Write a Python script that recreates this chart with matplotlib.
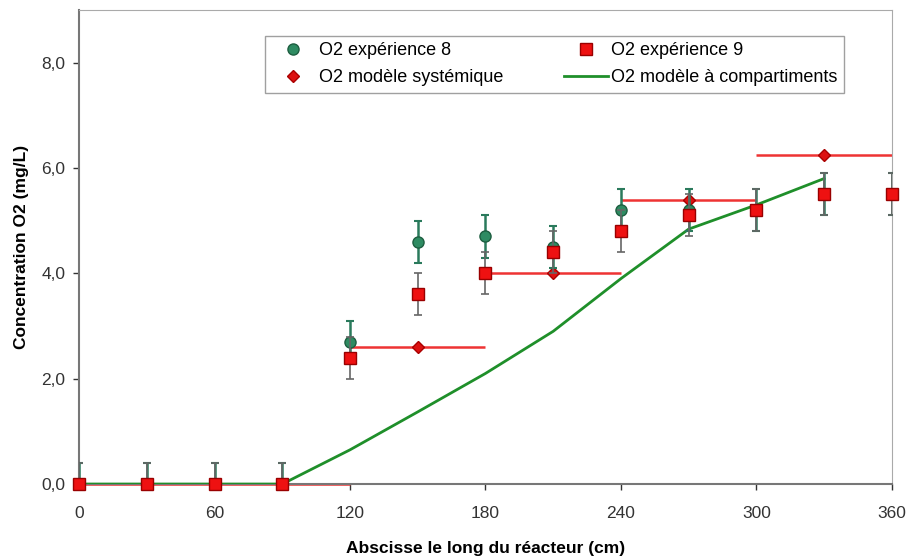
import numpy as np
import matplotlib.pyplot as plt
from matplotlib.ticker import FuncFormatter
from matplotlib.lines import Line2D

# Données
x_exp = [0, 30, 60, 90, 120, 150, 180, 210, 240, 270, 300, 330, 360]
o2_exp8 = [0.0, 0.0, 0.0, 0.0, 2.7, 4.6, 4.7, 4.5, 5.2, 5.2, 5.2, 5.5, 5.5]
o2_exp9 = [0.0, 0.0, 0.0, 0.0, 2.4, 3.6, 4.0, 4.4, 4.8, 5.1, 5.2, 5.5, 5.5]
err_exp = 0.4

x_syst = [30, 90, 150, 210, 270, 330]
o2_syst = [0.0, 0.0, 2.6, 4.0, 5.4, 6.25]
syst_start = [0, 60, 120, 180, 240, 300]
syst_end = [60, 120, 180, 240, 300, 360]

x_comp = [0, 30, 60, 90, 120, 150, 180, 210, 240, 270, 300, 330]
o2_comp = [0.0, 0.0, 0.0, 0.0, 0.65, 1.37, 2.1, 2.9, 3.9, 4.84, 5.3, 5.8]

plt.rcParams['font.family'] = ['Liberation Sans', 'DejaVu Sans']

fig = plt.figure(figsize=(9.1, 5.57), dpi=100)
ax = fig.add_axes([0.087, 0.131, 0.893, 0.851])

green = '#1f8f2a'
red = '#ee1111'
teal = '#2e8b62'

# modèle à compartiments
ax.plot(x_comp, o2_comp, color=green, lw=2, zorder=3)

# modèle systémique : paliers
ax.hlines(o2_syst, syst_start, syst_end, colors='#ee3333', lw=1.8, zorder=2,
          clip_on=False)
ax.plot(x_syst, o2_syst, linestyle='none', marker='D', ms=6, color='#dd1111',
        mec='#aa0000', zorder=4, clip_on=False)

# expériences
e8 = ax.errorbar(x_exp, o2_exp8, yerr=err_exp, fmt='o', ms=8, color=teal,
                 mec='#1d5e40', ecolor='#2a7a5c', elinewidth=1.8, capsize=3,
                 capthick=1.5, zorder=5)
e9 = ax.errorbar(x_exp, o2_exp9, yerr=err_exp, fmt='s', ms=9, color=red,
                 mec='#990000', ecolor='#666666', elinewidth=1.2, capsize=3,
                 capthick=1.2, zorder=6)
e8[0].set_clip_on(False)
e9[0].set_clip_on(False)

ax.set_xlim(0, 360)
ax.set_ylim(0, 9)
ax.set_xticks(np.arange(0, 361, 60))
ax.set_yticks([0, 2, 4, 6, 8])
ax.yaxis.set_major_formatter(FuncFormatter(lambda v, p: f'{v:.1f}'.replace('.', ',')))
ax.tick_params(labelsize=12.5, colors='#333333', length=4, width=1, direction='out')
ax.tick_params(axis='x', pad=12)
ax.tick_params(axis='y', pad=6)
for s in ax.spines.values():
    s.set_color('#aaaaaa')
ax.spines['left'].set_color('#777777')
ax.spines['bottom'].set_color('#777777')
ax.spines['left'].set_linewidth(1.5)
ax.spines['bottom'].set_linewidth(1.5)

ax.set_xlabel('Abscisse le long du réacteur (cm)', fontsize=12.5, fontweight='bold', labelpad=14)
ax.set_ylabel('Concentration O2 (mg/L)', fontsize=12.5, fontweight='bold', labelpad=9)

handles = [
    Line2D([], [], ls='none', marker='o', ms=8, color=teal, mec='#1d5e40'),
    Line2D([], [], ls='none', marker='D', ms=6, color='#dd1111', mec='#aa0000'),
    Line2D([], [], ls='none', marker='s', ms=8, color=red, mec='#990000'),
    Line2D([], [], color=green, lw=2),
]
labels = ['O2 expérience 8', 'O2 modèle systémique',
          'O2 expérience 9', 'O2 modèle à compartiments']
leg = ax.legend(handles, labels, ncol=2,
                loc='upper left', bbox_to_anchor=(0.229, 0.945), borderaxespad=0,
                fontsize=13, frameon=True, fancybox=False, edgecolor='#888888',
                columnspacing=3.4, handlelength=2.4, handletextpad=0.2,
                borderpad=0.35, labelspacing=0.55)
leg.get_frame().set_linewidth(1)

fig.savefig('out.png', dpi=100)
